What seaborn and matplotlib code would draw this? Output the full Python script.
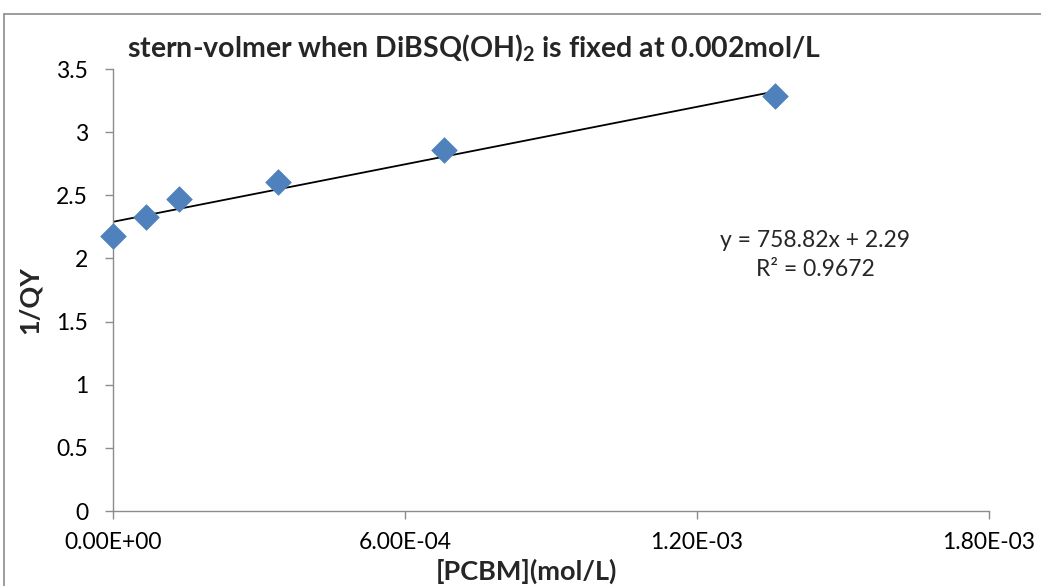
import numpy as np
import pandas as pd
import matplotlib
matplotlib.use("Agg")
import matplotlib.pyplot as plt
from matplotlib.lines import Line2D
from matplotlib.ticker import FuncFormatter
import seaborn as sns

# PCBM concentration (mol/L) and inverse quantum yield
pcbm = [0.0, 6.8e-5, 1.36e-4, 3.4e-4, 6.8e-4, 1.36e-3]
inv_qy = [2.18, 2.33, 2.47, 2.605, 2.86, 3.285]

# linear fit reported on the chart
slope = 758.82
intercept = 2.29
r_squared = 0.9672

x_ticks = [0.0, 6.0e-4, 1.2e-3, 1.8e-3]
y_ticks = [0, 0.5, 1, 1.5, 2, 2.5, 3, 3.5]

sns.set_theme(style="white")
plt.rcParams["font.family"] = ["Lato", "DejaVu Sans"]
plt.rcParams["mathtext.fontset"] = "custom"
plt.rcParams["mathtext.rm"] = "Lato"
plt.rcParams["mathtext.bf"] = "Lato:bold"

df = pd.DataFrame({"pcbm": pcbm, "inv_qy": inv_qy})
fit_x = np.array([min(pcbm), max(pcbm)])
fit = pd.DataFrame({"pcbm": fit_x, "inv_qy": slope * fit_x + intercept})

W, H = 1041, 586
fig = plt.figure(figsize=(W / 100, H / 100), dpi=100)
ax = fig.add_axes([113 / W, 1 - 511 / H, 876 / W, 442 / H])

sns.lineplot(data=fit, x="pcbm", y="inv_qy", ax=ax, color="black", linewidth=1.3, zorder=2)
sns.scatterplot(data=df, x="pcbm", y="inv_qy", ax=ax, marker="D", s=170,
                color="#4F81BD", edgecolor="#4F81BD", linewidth=0.5, zorder=3,
                clip_on=False)

ax.set_xlim(0, 1.8e-3)
ax.set_ylim(0, 3.5)
ax.set_xticks(x_ticks)
ax.set_yticks(y_ticks)
ax.xaxis.set_major_formatter(FuncFormatter(lambda v, p: f"{v:.2E}"))
ax.yaxis.set_major_formatter(FuncFormatter(lambda v, p: f"{v:g}"))

for side in ("top", "right"):
    ax.spines[side].set_visible(False)
for side in ("left", "bottom"):
    ax.spines[side].set_color("#8C8C8C")
    ax.spines[side].set_linewidth(1.0)
ax.tick_params(axis="both", which="major", direction="out", length=6, width=1,
               color="#8C8C8C", labelsize=16.5, labelcolor="black",
               bottom=True, left=True)
ax.tick_params(axis="y", pad=12)
ax.tick_params(axis="x", pad=9)

ax.set_xlabel("[PCBM](mol/L)", fontsize=19.5, fontweight="bold")
ax.xaxis.set_label_coords((526 - 113) / 876, -(559 - 511) / 442)
ax.set_ylabel("1/QY", fontsize=19.5, fontweight="bold")
ax.yaxis.set_label_coords(-(113 - 42) / 876, (511 - 300) / 442)

fig.text(474 / W, 1 - 57 / H,
         "stern-volmer when DiBSQ(OH)$_\\mathbf{2}$ is fixed at 0.002mol/L",
         ha="center", va="baseline", fontsize=20.5, fontweight="bold")

ax.text((815 - 113) / 876, (511 - 255) / 442,
        f"y = {slope:.2f}x + {intercept:.2f}\nR² = {r_squared:.4f}",
        transform=ax.transAxes, ha="center", va="center", fontsize=16.5,
        linespacing=1.45)

# outer chart frame
frame_col = "#8C8C8C"
fig.add_artist(Line2D([4 / W, 1.0], [1 - 14 / H, 1 - 14 / H], color=frame_col, lw=1.2,
                      transform=fig.transFigure))
fig.add_artist(Line2D([4 / W, 4 / W], [0.0, 1 - 14 / H], color=frame_col, lw=1.2,
                      transform=fig.transFigure))

fig.savefig("out.png", dpi=100)
